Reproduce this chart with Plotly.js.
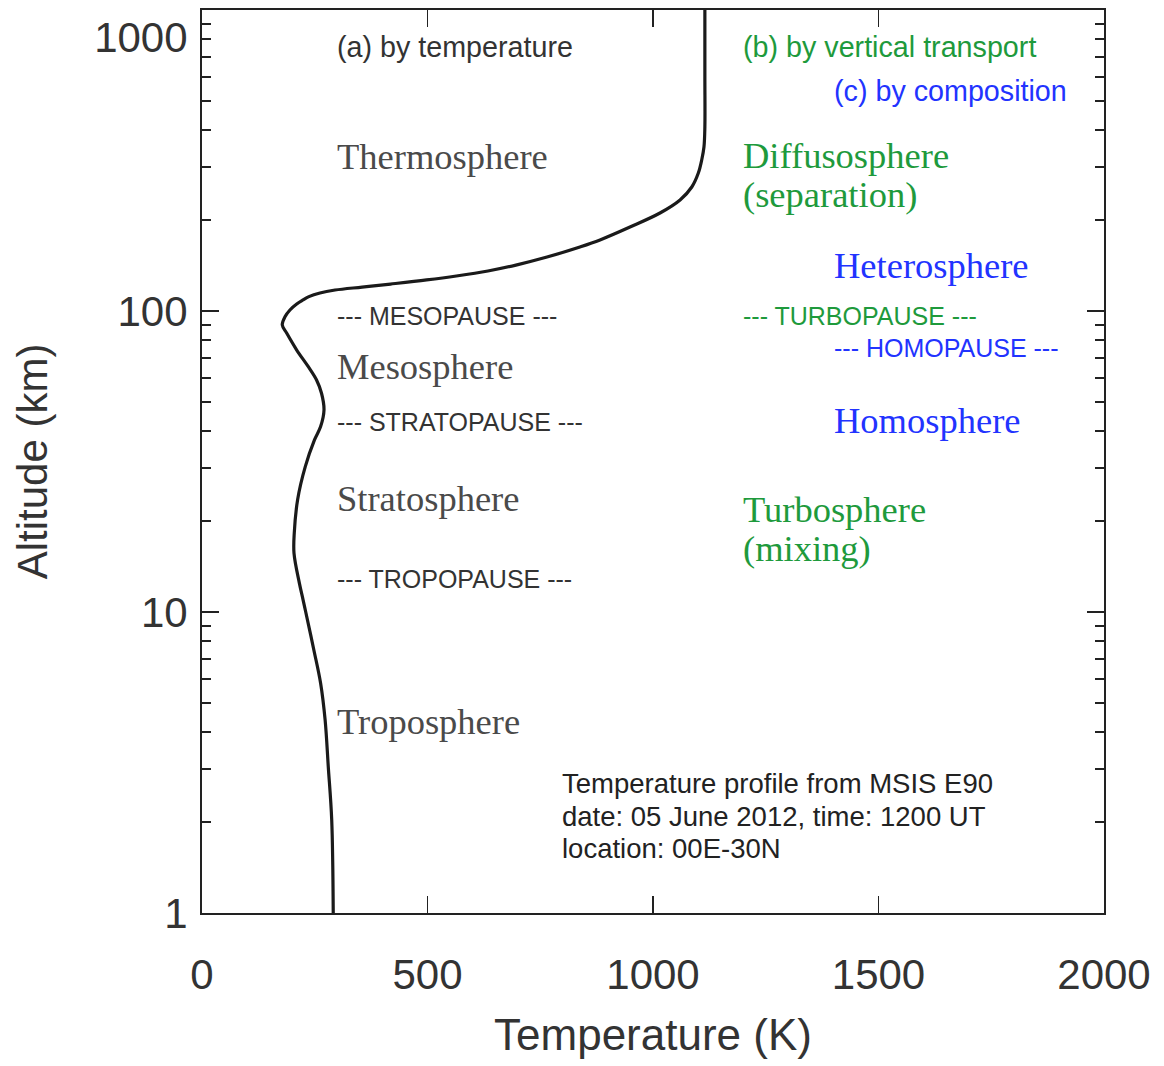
<!DOCTYPE html>
<html>
<head>
<meta charset="utf-8">
<script src="https://cdn.plot.ly/plotly-3.0.1.min.js"></script>
<style>html,body{margin:0;padding:0;background:#fff;}#chart{width:1164px;height:1066px;}</style>
</head>
<body>
<div id="chart"></div>
<script>
// MSIS E90 temperature profile
const altitudeKm = [1, 2.04, 3.06, 4.38, 5.8, 7.48, 10, 11, 12.45, 15.7, 18.3, 23.6, 30.4, 37.3, 41.3, 46.9, 53.3, 59, 65.3, 74.2, 84.3, 89.9, 95.7, 100.8, 105.5, 108.8, 111.6, 114.8, 117.4, 120.1, 122.9, 126.8, 130.7, 135.8, 142.1, 151.1, 163.2, 172.2, 190.1, 211.6, 233.8, 258.2, 287.3, 317.5, 350.7, 408.6, 600, 1000];
const temperatureK = [291, 287.6, 280, 273, 263, 248, 230, 224, 216, 204, 204.6, 212, 229, 249.4, 263, 270.5, 265, 254, 235.7, 210, 188, 178, 184, 195, 210, 224, 237, 261.6, 295, 355, 418, 498, 564, 634, 696, 765, 838, 882.5, 949, 1015.5, 1060, 1086, 1100.5, 1108, 1113, 1115, 1115, 1115];

const yTickVals = [1, 10, 100, 1000];
const yTickText = ['1', '10', '100', '<br>1000'];
const xTickVals = [0, 500, 1000, 1500, 2000];

// Text labels
const headerLabels = ['(a) by temperature', '(b) by vertical transport', '(c) by composition'];
const pauseLabels = ['--- MESOPAUSE ---', '--- TURBOPAUSE ---', '--- HOMOPAUSE ---',
  '--- STRATOPAUSE ---', '--- TROPOPAUSE ---'];
const serifLabels = ['Thermosphere', 'Diffusosphere', '(separation)', 'Heterosphere',
  'Mesosphere', 'Homosphere', 'Stratosphere', 'Turbosphere', '(mixing)', 'Troposphere'];
const infoLines = ['Temperature profile from MSIS E90', 'date: 05 June 2012, time: 1200 UT', 'location: 00E-30N'];

const GRAY = '#333333', SERIFGRAY = '#4a4a4a', GREEN = '#1e9a3c', BLUE = '#2233ff';
const SANS = 'Liberation Sans, Arial, sans-serif';
const SERIF = 'Liberation Serif, Times New Roman, serif';

// placement (temperature K, altitude km) and colour for each label
const headerPlace = [[297, 753, GRAY], [1197, 753, GREEN], [1399, 538, BLUE]];
const pausePlace = [[297, 96.2, GRAY], [1197, 96.2, GREEN], [1399, 75.4, BLUE],
  [297, 42.8, GRAY], [297, 12.9, GRAY]];
const serifPlace = [[297, 327, SERIFGRAY], [1197, 328, GREEN], [1197, 244, GREEN], [1399, 142, BLUE],
  [297, 65.2, SERIFGRAY], [1399, 43.3, BLUE], [297, 23.9, SERIFGRAY], [1197, 21.9, GREEN], [1197, 16.3, GREEN], [297, 4.34, SERIFGRAY]];
const infoPlace = [[795, 2.683], [795, 2.100], [795, 1.644]];

const annotations = [];
function addLabels(texts, places, family, size, fixedColor) {
  texts.forEach((t, i) => annotations.push({
    text: t, x: places[i][0], y: Math.log10(places[i][1]), xref: 'x', yref: 'y',
    xanchor: 'left', yanchor: 'middle', showarrow: false, borderpad: 0,
    font: {family: family, size: size, color: fixedColor || places[i][2]}
  }));
}
addLabels(headerLabels, headerPlace, SANS, 28.7);
addLabels(pauseLabels, pausePlace, SANS, 25);
addLabels(serifLabels, serifPlace, SERIF, 36.5);
addLabels(infoLines, infoPlace, SANS, 27.5, '#222222');

const trace = {
  x: temperatureK, y: altitudeKm, type: 'scatter', mode: 'lines',
  line: {color: '#1a1a1a', width: 3.2, shape: 'spline', smoothing: 1.0},
  hoverinfo: 'x+y'
};

const tickFont = {family: SANS, size: 42, color: '#333333'};

const layout = {
  width: 1164, height: 1066,
  margin: {l: 202, r: 60, t: 10, b: 153},
  paper_bgcolor: '#ffffff', plot_bgcolor: '#ffffff',
  showlegend: false,
  xaxis: {
    range: [0, 2000], tickvals: xTickVals, ticktext: xTickVals.map(String),
    ticks: 'inside', ticklen: 17, tickwidth: 1.5, tickcolor: '#222',
    showline: true, linecolor: '#222', linewidth: 2, mirror: 'ticks',
    showgrid: false, zeroline: false,
    tickfont: tickFont, ticklabelstandoff: 24,
    title: {text: 'Temperature (K)', font: {family: SANS, size: 44, color: '#333333'}, standoff: 22}
  },
  yaxis: {
    type: 'log', range: [0, 3], tickvals: yTickVals, ticktext: yTickText,
    ticks: 'inside', ticklen: 17, tickwidth: 2, tickcolor: '#222',
    minor: {ticks: 'inside', ticklen: 9, tickwidth: 2, tickcolor: '#222', dtick: 'D1', showgrid: false},
    showline: true, linecolor: '#222', linewidth: 2, mirror: 'ticks',
    showgrid: false, zeroline: false, ticklabeloverflow: 'allow',
    tickfont: tickFont, ticklabelstandoff: 4,
    title: {text: 'Altitude (km)', font: {family: SANS, size: 42, color: '#333333'}, standoff: 33}
  },
  annotations: annotations
};

Plotly.newPlot('chart', [trace], layout, {displayModeBar: false, staticPlot: true});
</script>
</body>
</html>
